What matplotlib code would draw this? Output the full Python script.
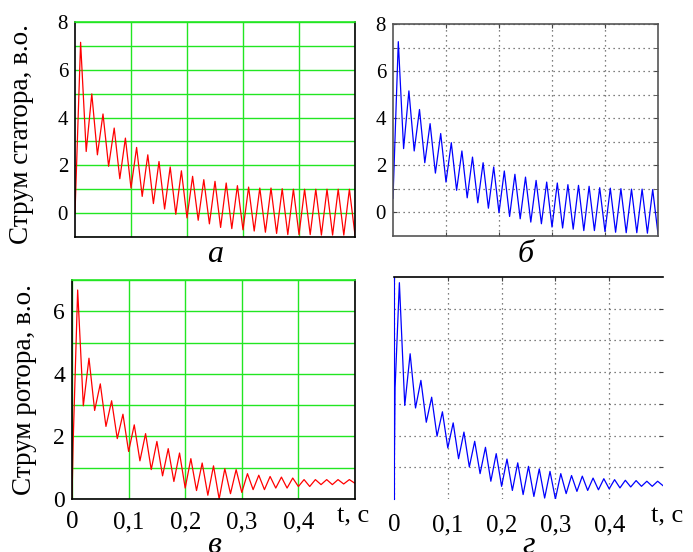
import matplotlib
matplotlib.use("Agg")
import matplotlib.pyplot as plt

plt.rcParams["font.family"] = ["Liberation Serif", "DejaVu Serif"]

# 50 Hz oscillation: times of the peaks and troughs (s)
t_peak = [0.010, 0.030, 0.050, 0.070, 0.090, 0.110, 0.130, 0.150, 0.170, 0.190,
          0.210, 0.230, 0.250, 0.270, 0.290, 0.310, 0.330, 0.350, 0.370, 0.390,
          0.410, 0.430, 0.450, 0.470, 0.490]
t_trough = [0.020, 0.040, 0.060, 0.080, 0.100, 0.120, 0.140, 0.160, 0.180, 0.200,
            0.220, 0.240, 0.260, 0.280, 0.300, 0.320, 0.340, 0.360, 0.380, 0.400,
            0.420, 0.440, 0.460, 0.480, 0.500]

# stator current, panel a (red)
sa_start_t = [0.0]
sa_start = [0.0]
sa_peak = [7.15, 4.99, 4.15, 3.56, 3.14, 2.75, 2.44, 2.16, 1.93, 1.77,
           1.54, 1.40, 1.33, 1.26, 1.15, 1.09, 1.05, 1.05, 1.02, 1.00,
           1.00, 1.00, 1.00, 1.00, 1.00]
sa_trough = [2.58, 2.44, 1.96, 1.44, 1.05, 0.70, 0.40, 0.17, -0.05, -0.20,
             -0.30, -0.45, -0.60, -0.65, -0.70, -0.75, -0.80, -0.85, -0.90, -0.90,
             -0.90, -0.92, -0.92, -0.92, -0.92]

# stator current, panel б (blue)
sb_start_t = [0.0]
sb_start = [0.6]
sb_peak = [7.25, 5.16, 4.37, 3.77, 3.35, 2.96, 2.61, 2.35, 2.11, 1.93,
           1.76, 1.62, 1.50, 1.36, 1.29, 1.25, 1.18, 1.15, 1.11, 1.05,
           1.03, 1.01, 0.99, 0.99, 0.97]
sb_trough = [2.71, 2.61, 2.11, 1.67, 1.29, 0.94, 0.62, 0.41, 0.18, -0.01,
             -0.17, -0.27, -0.41, -0.48, -0.62, -0.66, -0.71, -0.77, -0.77, -0.81,
             -0.84, -0.86, -0.86, -0.88, -0.91]

# rotor current, panel в (red)
rv_start_t = [0.0, 0.002]
rv_start = [0.0, 1.8]
rv_peak = [6.68, 4.50, 3.68, 3.14, 2.71, 2.37, 2.09, 1.84, 1.61, 1.47,
           1.29, 1.15, 1.06, 0.97, 0.94, 0.81, 0.76, 0.72, 0.70, 0.67,
           0.62, 0.62, 0.62, 0.62, 0.62]
rv_trough = [2.98, 2.83, 2.32, 1.93, 1.52, 1.22, 0.94, 0.74, 0.56, 0.35,
             0.27, 0.12, 0.00, 0.17, 0.21, 0.30, 0.30, 0.35, 0.35, 0.40,
             0.40, 0.46, 0.46, 0.48, 0.50]

# rotor current, panel г (blue)
rg_start_t = [0.0, 0.002]
rg_start = [0.0, 3.5]
rg_peak = [6.82, 4.58, 3.74, 3.21, 2.75, 2.40, 2.11, 1.82, 1.63, 1.43,
           1.26, 1.14, 1.03, 0.95, 0.87, 0.80, 0.74, 0.72, 0.66, 0.64,
           0.61, 0.59, 0.58, 0.56, 0.56]
rg_trough = [2.95, 2.87, 2.42, 1.98, 1.61, 1.27, 1.01, 0.80, 0.56, 0.40,
             0.27, 0.14, 0.08, 0.03, 0.00, 0.17, 0.24, 0.27, 0.29, 0.32,
             0.35, 0.38, 0.40, 0.40, 0.42]

x_ticks = [0.0, 0.1, 0.2, 0.3, 0.4]
x_tick_labels = ["0", "0,1", "0,2", "0,3", "0,4"]
stator_yticks = [0, 2, 4, 6, 8]
rotor_yticks = [0, 2, 4, 6]

GREEN = "#22e622"
W, H = 693, 552


def series(start_t, start, peak, trough):
    t = list(start_t)
    y = list(start)
    for tp, p, tt, tr in zip(t_peak, peak, t_trough, trough):
        t += [tp, tt]
        y += [p, tr]
    return t, y


def add_axes(fig, left, top, right, bottom):
    return fig.add_axes([left / W, 1 - bottom / H, (right - left) / W, (bottom - top) / H])


def green_style(ax, ylim, size):
    ax.set_xlim(0, 0.5)
    ax.set_ylim(*ylim)
    ax.set_xticks([0.1, 0.2, 0.3, 0.4, 0.5], minor=False)
    ax.set_yticks(range(int(ylim[0]), int(ylim[1]) + 1), minor=True)
    ax.grid(True, which="both", color=GREEN, lw=1.0)
    ax.tick_params(which="both", length=0, labelsize=size, pad=5)
    for s in ax.spines.values():
        s.set_color("black")
        s.set_linewidth(1.2)
    ax.spines["top"].set_color(GREEN)
    ax.set_axisbelow(True)


def dotted_style(ax, ylim, size):
    ax.set_xlim(0, 0.5)
    ax.set_ylim(*ylim)
    ax.set_xticks([0.1, 0.2, 0.3, 0.4])
    ax.set_yticks(range(int(ylim[0]) + 1, int(ylim[1])), minor=True)
    ax.grid(True, which="both", color="#555555", lw=0.9, ls=(0, (1, 3)))
    ax.tick_params(which="both", direction="in", length=3, labelsize=size,
                   top=True, right=True, color="#444444", pad=5)
    ax.set_axisbelow(True)


fig = plt.figure(figsize=(W / 100, H / 100), dpi=100)

# а — stator, red
ax_a = add_axes(fig, 75, 22, 355, 237)
t, y = series(sa_start_t, sa_start, sa_peak, sa_trough)
ax_a.plot(t, y, color="red", lw=0.9)
green_style(ax_a, (-1, 8), 15)
ax_a.set_yticks(stator_yticks)
ax_a.set_xticklabels([])
ax_a.set_ylabel("Струм статора, в.о.", fontsize=19.5)
ax_a.yaxis.set_label_coords(-0.145, 0.48)
ax_a.text(0.5, -0.116, "а", transform=ax_a.transAxes, ha="center", va="baseline",
          fontsize=23, style="italic")

# б — stator, blue
ax_b = add_axes(fig, 393, 24, 658, 236)
t, y = series(sb_start_t, sb_start, sb_peak, sb_trough)
ax_b.plot(t, y, color="blue", lw=0.9)
dotted_style(ax_b, (-1, 8), 15)
ax_b.set_yticks(stator_yticks)
ax_b.set_xticklabels([])
for s in ax_b.spines.values():
    s.set_color("#555555")
    s.set_linewidth(1.2)
ax_b.text(0.5, -0.123, "б", transform=ax_b.transAxes, ha="center", va="baseline",
          fontsize=23, style="italic")

# в — rotor, red
ax_v = add_axes(fig, 72, 280, 355, 499)
t, y = series(rv_start_t, rv_start, rv_peak, rv_trough)
ax_v.plot(t, y, color="red", lw=0.9)
green_style(ax_v, (0, 7), 17)
ax_v.set_yticks(rotor_yticks)
ax_v.set_xticks(x_ticks)
ax_v.set_xticks([0.5], minor=True)
ax_v.set_xticklabels(x_tick_labels)
ax_v.tick_params(axis="x", pad=9, labelsize=18)
ax_v.set_ylabel("Струм ротора, в.о.", fontsize=19.5)
ax_v.yaxis.set_label_coords(-0.124, 0.5)
ax_v.text(0.995, -0.105, "t, c", transform=ax_v.transAxes, ha="center", va="baseline",
          fontsize=19)
ax_v.text(0.5, -0.245, "в", transform=ax_v.transAxes, ha="center", va="baseline",
          fontsize=23, style="italic")

# г — rotor, blue
ax_g = add_axes(fig, 394, 277, 663, 499)
t, y = series(rg_start_t, rg_start, rg_peak, rg_trough)
ax_g.plot(t, y, color="blue", lw=0.9)
dotted_style(ax_g, (0, 7), 18)
ax_g.set_yticks([1, 2, 3, 4, 5, 6])
ax_g.set_yticklabels([])
ax_g.set_xticks(x_ticks)
ax_g.set_xticklabels(x_tick_labels)
ax_g.tick_params(axis="x", pad=11, bottom=False, top=True)
ax_g.tick_params(axis="y", left=False)
ax_g.spines["right"].set_visible(False)
ax_g.spines["bottom"].set_visible(False)
ax_g.spines["left"].set_color("blue")
ax_g.spines["top"].set_color("black")
ax_g.spines["top"].set_linewidth(1.2)
ax_g.text(1.015, -0.105, "t, c", transform=ax_g.transAxes, ha="center", va="baseline",
          fontsize=19)
ax_g.text(0.5, -0.245, "г", transform=ax_g.transAxes, ha="center", va="baseline",
          fontsize=23, style="italic")

fig.savefig("out.png", dpi=100)
